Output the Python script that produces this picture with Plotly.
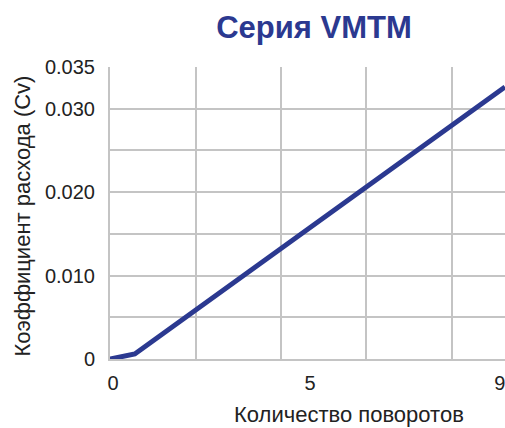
import plotly.graph_objects as go

# Data
turns = [0, 0.58, 9.24]
cv = [0, 0.0006, 0.0326]

y_tickvals = [0, 0.005, 0.010, 0.015, 0.020, 0.025, 0.030, 0.035]
y_ticktext = ["0", "", "0.010", "", "0.020", "", "0.030", "0.035"]
x_tickvals = [0.07, 4.68, 9.12]
x_ticktext = ["0", "5", "9"]
x_gridvals = [0, 2, 4, 6, 8]

title_text = "Серия VMTM"
x_title = "Количество поворотов"
y_title = "Коэффициент расхода (Cv)"

BLUE = "#2b3990"
GRID = "#c4c4c4"
TXT = "#222222"
FONT = "Liberation Sans, Arial, sans-serif"

fig = go.Figure()
fig.add_trace(go.Scatter(
    x=turns, y=cv, mode="lines",
    line=dict(color=BLUE, width=5),
    cliponaxis=False, hoverinfo="skip", showlegend=False,
))

fig.update_layout(
    width=505, height=428,
    margin=dict(l=110, r=0, t=67, b=69, autoexpand=False),
    paper_bgcolor="white", plot_bgcolor="white",
    font=dict(family=FONT, color=TXT),
    title=dict(text=f"<b>{title_text}</b>", x=314/505, xanchor="center",
               y=1-27/428, yanchor="middle", yref="container", automargin=False,
               font=dict(size=31, color=BLUE, family=FONT)),
    xaxis=dict(
        range=[0, 9.24], tickmode="array", tickvals=x_tickvals, ticktext=x_ticktext,
        showgrid=False, zeroline=False, showline=True, linecolor=GRID, linewidth=2,
        ticks="", ticklabelstandoff=5, ticklabeloverflow="allow",
        tickfont=dict(size=20, color=TXT),
        minor=dict(tickmode="array", tickvals=x_gridvals, showgrid=True,
                   gridcolor=GRID, gridwidth=2, ticks=""),
        automargin=False, fixedrange=True,
    ),
    yaxis=dict(
        range=[0, 0.035], tickmode="array", tickvals=y_tickvals, ticktext=y_ticktext,
        showgrid=True, gridcolor=GRID, gridwidth=2, zeroline=False,
        showline=True, linecolor=GRID, linewidth=2,
        ticks="", ticklabelstandoff=9, ticklabeloverflow="allow",
        tickfont=dict(size=20, color=TXT),
        automargin=False, fixedrange=True,
    ),
    annotations=[
        dict(text=x_title, xref="paper", yref="paper", x=(349-110)/395, y=(359-415)/292,
             xanchor="center", yanchor="middle", showarrow=False,
             font=dict(size=22, color=TXT, family=FONT)),
        dict(text=y_title, xref="paper", yref="paper", x=(22-110)/395, y=(359-216.5)/292,
             xanchor="center", yanchor="middle", showarrow=False, textangle=-90,
             font=dict(size=22, color=TXT, family=FONT)),
    ],
)

fig.write_html(
    "out.html",
    config={"displayModeBar": False},
    post_script="document.body.style.margin='0';document.body.style.overflow='hidden';",
)
